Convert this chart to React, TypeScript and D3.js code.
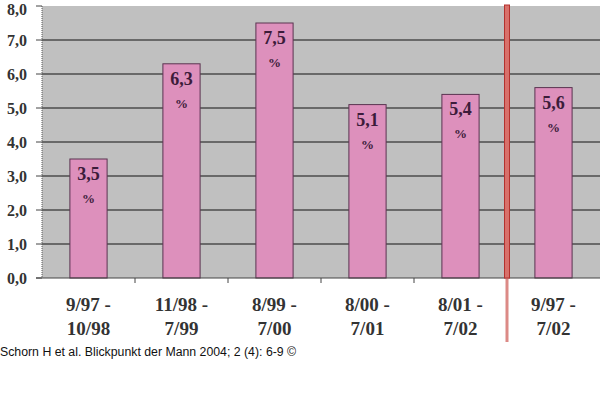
import React, { useEffect, useRef } from "react";
import * as d3 from "d3";

const PERIODS_TOP = ["9/97 -", "11/98 -", "8/99 -", "8/00 -", "8/01 -", "9/97 -"];
const PERIODS_BOTTOM = ["10/98", "7/99", "7/00", "7/01", "7/02", "7/02"];
const RATES = [3.5, 6.3, 7.5, 5.1, 5.4, 5.6];
const Y_TICKS = [0, 1, 2, 3, 4, 5, 6, 7, 8];
const CAPTION = "Schorn H et al. Blickpunkt der Mann 2004; 2 (4): 6-9 ©";

const W = 600;
const H = 401;
const M = { top: 6, right: 0, bottom: 123, left: 42 };

const SERIF = "Georgia, 'Liberation Serif', 'DejaVu Serif', serif";
const fmt = (v: number) => v.toFixed(1).replace(".", ",");

const App: React.FC = () => {
  const svgRef = useRef<SVGSVGElement>(null);

  useEffect(() => {
    document.body.style.margin = "0";
    const svgEl = svgRef.current;
    if (!svgEl) return;

    const svg = d3.select(svgEl);
    svg.selectAll("*").remove();

    const iW = W - M.left - M.right;
    const iH = H - M.top - M.bottom;
    const keys = PERIODS_TOP.map((_, i) => String(i));

    const x = d3.scaleBand<string>()
      .domain(keys)
      .range([M.left, M.left + iW])
      .paddingInner(0.6)
      .paddingOuter(0.3);
    const step = x.step();
    const bandStart = (k: string) => x(k)! - (step - x.bandwidth()) / 2;

    const y = d3.scaleLinear().domain([0, 8]).range([M.top + iH, M.top]);

    svg.append("rect").attr("width", W).attr("height", H).attr("fill", "#fff");

    // plot area
    svg.append("rect")
      .attr("x", M.left).attr("y", y(8))
      .attr("width", iW).attr("height", y(0) - y(8))
      .attr("fill", "#c0c0c0");

    // grid lines
    svg.append("g")
      .selectAll("line")
      .data(Y_TICKS.filter(t => t > 0 && t < 8))
      .join("line")
      .attr("x1", M.left).attr("x2", M.left + iW)
      .attr("y1", d => y(d)).attr("y2", d => y(d))
      .attr("stroke", "#4d4d4d")
      .attr("stroke-width", 1.3);

    // bars
    svg.append("g")
      .selectAll("rect")
      .data(RATES)
      .join("rect")
      .attr("x", (_, i) => x(keys[i])!)
      .attr("y", d => y(d))
      .attr("width", x.bandwidth())
      .attr("height", d => y(0) - y(d))
      .attr("fill", "#dd90bc")
      .attr("stroke", "#5a3450")
      .attr("stroke-width", 1);

    // value labels
    const lbl = svg.append("g").attr("font-family", SERIF).attr("font-weight", "bold")
      .attr("fill", "#3c1c3a").attr("text-anchor", "middle");
    lbl.selectAll("text.v")
      .data(RATES)
      .join("text")
      .attr("class", "v")
      .attr("x", (_, i) => x(keys[i])! + x.bandwidth() / 2)
      .attr("y", d => y(d) + 21)
      .attr("font-size", 18)
      .text(d => fmt(d));
    lbl.selectAll("text.p")
      .data(RATES)
      .join("text")
      .attr("class", "p")
      .attr("x", (_, i) => x(keys[i])! + x.bandwidth() / 2)
      .attr("y", d => y(d) + 44)
      .attr("font-size", 13)
      .text("%");

    // left axis
    svg.append("line")
      .attr("x1", M.left).attr("x2", M.left)
      .attr("y1", y(8)).attr("y2", y(0))
      .attr("stroke", "#555").attr("stroke-width", 1)
      .attr("stroke-dasharray", "1,1");
    svg.append("g")
      .selectAll("line")
      .data(Y_TICKS)
      .join("line")
      .attr("x1", M.left - 6).attr("x2", M.left)
      .attr("y1", d => y(d)).attr("y2", d => y(d))
      .attr("stroke", "#444");
    svg.append("g")
      .attr("font-family", SERIF).attr("font-weight", "bold")
      .attr("font-size", 16).attr("fill", "#333").attr("text-anchor", "end")
      .selectAll("text")
      .data(Y_TICKS)
      .join("text")
      .attr("x", 27)
      .attr("y", d => Math.max(y(d) + 6, 15))
      .text(d => fmt(d));

    // bottom axis
    svg.append("line")
      .attr("x1", M.left - 6).attr("x2", M.left + iW)
      .attr("y1", y(0)).attr("y2", y(0))
      .attr("stroke", "#444").attr("stroke-width", 1.2);
    svg.append("g")
      .selectAll("line")
      .data(keys.slice(1))
      .join("line")
      .attr("x1", d => bandStart(d)).attr("x2", d => bandStart(d))
      .attr("y1", y(0)).attr("y2", y(0) + 5)
      .attr("stroke", "#444");

    const xl = svg.append("g")
      .attr("font-family", SERIF).attr("font-weight", "bold")
      .attr("font-size", 19).attr("fill", "#333").attr("text-anchor", "middle");
    xl.selectAll("text.t")
      .data(PERIODS_TOP)
      .join("text")
      .attr("class", "t")
      .attr("x", (_, i) => x(keys[i])! + x.bandwidth() / 2)
      .attr("y", y(0) + 33)
      .text(d => d);
    xl.selectAll("text.b")
      .data(PERIODS_BOTTOM)
      .join("text")
      .attr("class", "b")
      .attr("x", (_, i) => x(keys[i])! + x.bandwidth() / 2)
      .attr("y", y(0) + 57)
      .text(d => d);

    // red separator before the overall period
    const sepX = bandStart(keys[5]);
    svg.append("rect")
      .attr("x", sepX - 1.5).attr("y", y(0))
      .attr("width", 3).attr("height", 64)
      .attr("fill", "#dc8a86");
    svg.append("rect")
      .attr("x", sepX - 2.5).attr("y", y(8) - 1)
      .attr("width", 5).attr("height", y(0) - y(8) + 1)
      .attr("fill", "#d8706a")
      .attr("stroke", "#b3312e").attr("stroke-width", 1);

    // caption
    svg.append("text")
      .attr("x", 0).attr("y", 356)
      .attr("font-family", "Arial, 'Liberation Sans', sans-serif")
      .attr("font-size", 12.3)
      .attr("fill", "#111")
      .text(CAPTION);
  }, []);

  return <svg ref={svgRef} width={W} height={H} style={{ display: "block" }} />;
};

export default App;
